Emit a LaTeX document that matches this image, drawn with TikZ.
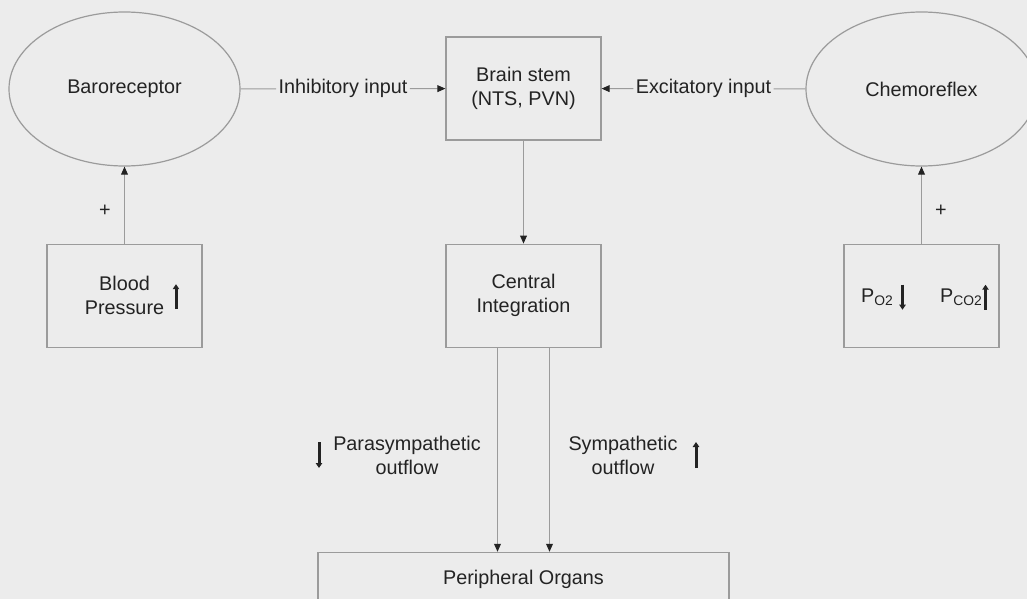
\documentclass[tikz,border=0pt]{standalone}
\usepackage{fontspec}
\setmainfont{Liberation Sans}
\usetikzlibrary{arrows.meta, positioning, calc, shapes.geometric}
\definecolor{PaperGrey}{RGB}{236,236,236}
\definecolor{LineGrey}{RGB}{155,155,155}
\definecolor{InkGrey}{RGB}{35,35,35}

\begin{document}
\begin{tikzpicture}[
    x=0.5pt, y=-0.5pt,
    font=\fontsize{9.9}{12}\selectfont,
    receptor/.style={ellipse, draw=LineGrey, line width=0.6pt, text=InkGrey,
        minimum width=115.5pt, minimum height=77pt, inner sep=0pt},
    block/.style={rectangle, draw=LineGrey, line width=0.6pt, text=InkGrey,
        align=center, minimum width=77.5pt, minimum height=51.5pt, inner sep=0pt},
    tag/.style={text=InkGrey, align=center, inner sep=1pt},
    link/.style={draw=LineGrey, line width=0.5pt},
    flow/.style={link, -{Triangle[length=4pt, width=3.4pt, color=InkGrey]}},
    level/.style={InkGrey, line width=1.5pt, -{Triangle[length=2.5pt, width=3.2pt]}},
]
\useasboundingbox (0,0) rectangle (1027,599);
\fill[PaperGrey] (0,0) rectangle (1027,599);
\clip (0,0) rectangle (1027,599);

% top row
\node[receptor] (baro) at (124.5,89) {\raisebox{-1pt}{Baroreceptor}};
\node[block] (brain) at (523.5,88.5) {Brain stem\\(NTS, PVN)};
\node[receptor] (chemo) at (921.5,89) {Chemoreflex};

% stimuli and integration
\node[block, below=38.5pt of baro] (bp) {Blood\\Pressure};
\node[block, below=51.5pt of brain] (integ) {Central\\Integration};
\node[block, below=38.5pt of chemo] (gas) {};
\node[block, below=102pt of integ, minimum width=205.5pt, minimum height=27pt]
    (periph) {Peripheral Organs};

% inputs to the brain stem
\node[tag] (inh) at ($(baro.east)!0.5!(brain.west)$) {Inhibitory input};
\node[tag] (exc) at ($(chemo.west)!0.5!(brain.east)$) {Excitatory input};
\draw[link] (baro) -- (inh);
\draw[flow] (inh) -- (brain);
\draw[link] (chemo) -- (exc);
\draw[flow] (exc) -- (brain);

\draw[flow] (bp) -- (baro);
\draw[flow] (gas) -- (chemo);
\draw[flow] (brain) -- (integ);
\node[tag] (bpsign) at (105,211) {+};
\node[tag] (gassign) at (941,211) {+};

% gas tensions
\node[tag, inner sep=0pt] (po2) at ($(gas.center)+(-44,2)$) {P\textsubscript{O2}};
\node[tag, inner sep=0pt] (pco2) at ($(gas.center)+(40,2)$) {P\textsubscript{CO2}};
\draw[level] ($(gas.center)+(-19,-11)$) -- ++(0,25);
\draw[level] ($(gas.center)+(64,14)$) -- ++(0,-25);
\draw[level] ($(bp.center)+(51.5,13.5)$) -- ++(0,-25);

% autonomic outflow
\draw[flow] ([xshift=-13pt]integ.south) -- ([xshift=-13pt]integ.south |- periph.north);
\draw[flow] ([xshift=13pt]integ.south) -- ([xshift=13pt]integ.south |- periph.north);
\node[tag] (para) at (407,455) {Parasympathetic\\outflow};
\node[tag] (symp) at (623,455) {Sympathetic\\outflow};
\draw[level] (319,442) -- ++(0,26);
\draw[level] (696,468) -- ++(0,-26);

\end{tikzpicture}
\end{document}
